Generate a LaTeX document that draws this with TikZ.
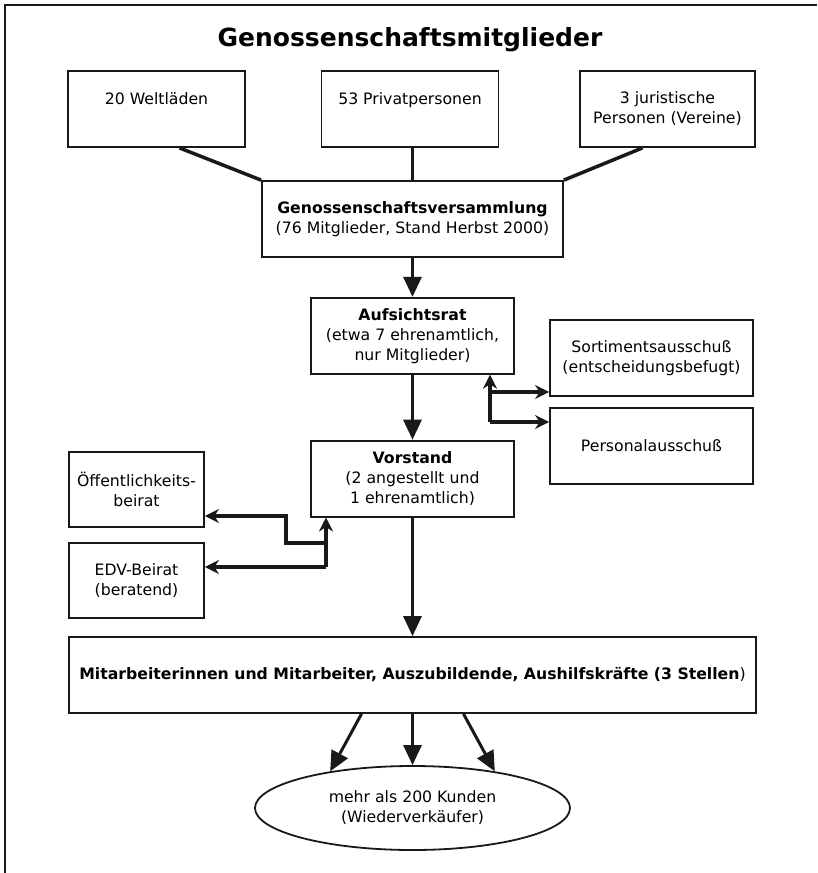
\documentclass[tikz,border=0pt]{standalone}
\usepackage{fontspec}
\setmainfont{DejaVu Sans}
\usetikzlibrary{shapes.geometric, arrows.meta, positioning}

\begin{document}
\begin{tikzpicture}[x=1pt, y=-1pt, font=\fontsize{15.7}{20}\selectfont,
    box/.style={draw=black!90, line width=1.8pt, align=center, inner sep=2pt},
    link/.style={draw=black!90, line width=3.5pt},
    big/.style={draw=black!90, line width=3pt, -{Triangle[length=20pt, width=18pt]}},
    side/.style={draw=black!90, line width=3.5pt, -{Stealth[length=14pt, width=14pt, inset=4.5pt]}}]
        \useasboundingbox (0,0) rectangle (817,873);
        \draw[line width=2.5pt, black!90] (5,873) -- (5,5) -- (817,5);
        \node (title) at (410,40) {\fontsize{25}{30}\selectfont\bfseries Genossenschaftsmitglieder};
        \node[box, minimum width=177pt, minimum height=76pt] (welt) at (156.5,109) {20 Weltläden\\\mbox{}};
        \node[box, minimum width=177pt, minimum height=76pt] (privat) at (410,109) {53 Privatpersonen\\\mbox{}};
        \node[box, minimum width=175pt, minimum height=76pt] (jur) at (667.5,109) {3 juristische\\Personen (Vereine)};
        \node[box, minimum width=301pt, minimum height=76pt] (vers) at (412.5,219)
          {\textbf{Genossenschaftsversammlung}\\(76 Mitglieder, Stand Herbst 2000)};
        \node[box, minimum width=203pt, minimum height=76pt, below=39pt of vers] (auf)
          {\textbf{Aufsichtsrat}\\(etwa 7 ehrenamtlich,\\nur Mitglieder)};
        \node[box, minimum width=203pt, minimum height=76pt, below=65pt of auf] (vor)
          {\textbf{Vorstand}\\(2 angestellt und\\1 ehrenamtlich)};
        \node[box, minimum width=203pt, minimum height=76pt] (sort) at (651.5,358)
          {Sortimentsausschuß\\(entscheidungsbefugt)};
        \node[box, minimum width=203pt, minimum height=76pt, below=10pt of sort] (pers) {Personalausschuß};
        \node[box, minimum width=135pt, minimum height=75pt] (oeff) at (136.5,489.5) {Öffentlichkeits-\\beirat};
        \node[box, minimum width=135pt, minimum height=75pt, below=14pt of oeff] (edv) {EDV-Beirat\\(beratend)};
        \node[box, minimum width=687pt, minimum height=76pt] (mit) at (412.5,675)
          {\textbf{Mitarbeiterinnen und Mitarbeiter, Auszubildende, Aushilfskräfte (3 Stellen})};
        \node[ellipse, draw=black!90, line width=1.8pt, minimum width=315pt, minimum height=84pt, align=center]
          (kunden) at (412.5,808) {mehr als 200 Kunden\\(Wiederverkäufer)};
        % members
        \draw[link] ([xshift=23pt]welt.south) -- (vers.north west);
        \draw[link] (privat.south -| vers.north) -- (vers.north);
        \draw[link] ([xshift=-25pt]jur.south) -- (vers.north east);
        \foreach \a/\b in {vers/auf, auf/vor, vor/mit}
          \draw[big] (\a) -- (\b);
        \draw[big] ([xshift=-51pt]mit.south) -- (kunden.156);
        \draw[big] (mit) -- (kunden);
        \draw[big] ([xshift=51pt]mit.south) -- (kunden.24);
        % committees
        \coordinate (ak1) at (490,392);
        \coordinate (ak2) at (490,422);
        \draw[side] (ak2) -- (ak2 |- auf.south);
        \draw[side] (ak1) -- (ak1 -| sort.west);
        \draw[side] (ak2) -- (ak2 -| pers.west);
        % advisory boards
        \coordinate (vk1) at (326,543);
        \coordinate (vk2) at (326,567);
        \coordinate (vk3) at (286,516);
        \draw[side] (vk2) -- (vk2 |- vor.south);
        \draw[side] (vk2) -- (vk2 -| edv.east);
        \draw[side] (vk1) -| (vk3) -- (vk3 -| oeff.east);
      \end{tikzpicture}
\end{document}
